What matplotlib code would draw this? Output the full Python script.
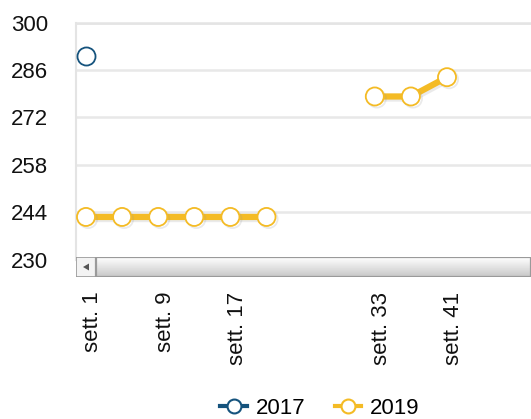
import numpy as np
import matplotlib
matplotlib.use("Agg")
import matplotlib.pyplot as plt
from matplotlib.patches import Rectangle, Polygon
from matplotlib.lines import Line2D
from matplotlib.transforms import ScaledTranslation
import matplotlib.patheffects as pe

plt.rcParams['font.family'] = ['Liberation Sans', 'DejaVu Sans']

# data: one category every 4 weeks
weeks = [1, 5, 9, 13, 17, 21, 25, 29, 33, 37, 41, 45, 49]
categories = [f"sett. {w}" for w in weeks]
shown_labels = ["sett. 1", "sett. 9", "sett. 17", "sett. 33", "sett. 41"]
nan = np.nan
values_2017 = [290.2, nan, nan, nan, nan, nan, nan, nan, nan, nan, nan, nan, nan]
values_2019 = [242.6, 242.6, 242.6, 242.6, 242.6, 242.6, nan, nan,
               278.2, 278.2, 283.9, nan, nan]
y_ticks = [230, 244, 258, 272, 286, 300]

c2017 = '#15537d'
c2019 = '#f4bb25'
fs = 16

W, H = 531, 419
fig = plt.figure(figsize=(W / 100, H / 100), dpi=100)
fig.patch.set_facecolor('white')

left_px, top_px, bottom_px = 76, 22.7, 259.6
ax = fig.add_axes([left_px / W, 1 - bottom_px / H, 1 - left_px / W, (bottom_px - top_px) / H])

x = np.arange(len(categories))
shadow = [pe.SimpleLineShadow(offset=(1.5, -1.5), shadow_color='#999999', alpha=0.2), pe.Normal()]
ax.plot(x, values_2019, color=c2019, lw=4.5, marker='o', ms=13, mfc='white',
        mec=c2019, mew=1.3, zorder=3, path_effects=shadow, solid_capstyle='butt')
ax.plot(x, values_2017, color=c2017, lw=4.5, marker='o', ms=13, mfc='white',
        mec=c2017, mew=1.3, zorder=3)

step = 36.1
ax.set_xlim(-(86 - left_px) / step, (W - left_px) / step - (86 - left_px) / step)
ax.set_ylim(230, 300)
ax.set_yticks(y_ticks)
ax.yaxis.grid(True, color='#e8e8e8', lw=1.8)
ax.set_axisbelow(True)
for s in ['right', 'bottom']:
    ax.spines[s].set_visible(False)
ax.spines['top'].set_color('#e4e4e4')
ax.spines['top'].set_linewidth(1.8)
ax.spines['left'].set_color('#e4e4e4')
ax.spines['left'].set_linewidth(1.5)
ax.tick_params(axis='y', length=0, pad=20, labelsize=fs, labelcolor='#111111')

tick_pos = [categories.index(lbl) for lbl in shown_labels]
ax.set_xticks(tick_pos)
ax.set_xticklabels(shown_labels, rotation=90, fontsize=fs, color='#111111')
ax.tick_params(axis='x', length=0, pad=23)
for lbl in ax.get_xticklabels():
    lbl.set_transform(lbl.get_transform() + ScaledTranslation(5 / 72, 0, fig.dpi_scale_trans))

# scrollbar strip under the plot area
sb_top, sb_bot = 257, 277
sb = fig.add_axes([left_px / W, 1 - sb_bot / H, 1 - left_px / W, (sb_bot - sb_top) / H])
sbw = W - left_px
sb.set_xlim(0, sbw)
sb.set_ylim(sb_bot - sb_top, 0)
sb.axis('off')
grad = np.linspace(1.0, 0.78, 50).reshape(-1, 1)
sb.imshow(grad, cmap='gray', vmin=0, vmax=1, aspect='auto',
          extent=[20, sbw, sb_bot - sb_top, 0], zorder=1)
sb.add_patch(Rectangle((0, 0), 20, sb_bot - sb_top, facecolor='#f3f3f3',
                       edgecolor='#9a9a9a', lw=1.2, zorder=2))
sb.add_patch(Rectangle((20, 0), sbw - 20, sb_bot - sb_top, facecolor='none',
                       edgecolor='#9a9a9a', lw=1.6, zorder=3))
sb.add_patch(Polygon([[7, 10], [13, 6.5], [13, 13.5]], closed=True,
                     facecolor='#555555', edgecolor='none', zorder=4))

handles = [
    Line2D([], [], color=c2017, lw=3, marker='o', ms=10, mfc='white', mec=c2017, mew=1.5),
    Line2D([], [], color=c2019, lw=3, marker='o', ms=10, mfc='white', mec=c2019, mew=1.5),
]
fig.legend(handles, ['2017', '2019'], loc='center', bbox_to_anchor=(320 / W, 1 - 408 / H),
           ncol=2, frameon=False, fontsize=fs, handlelength=1.2, handletextpad=0.4,
           columnspacing=1.3, borderaxespad=0)

fig.savefig('out.png', dpi=100)
